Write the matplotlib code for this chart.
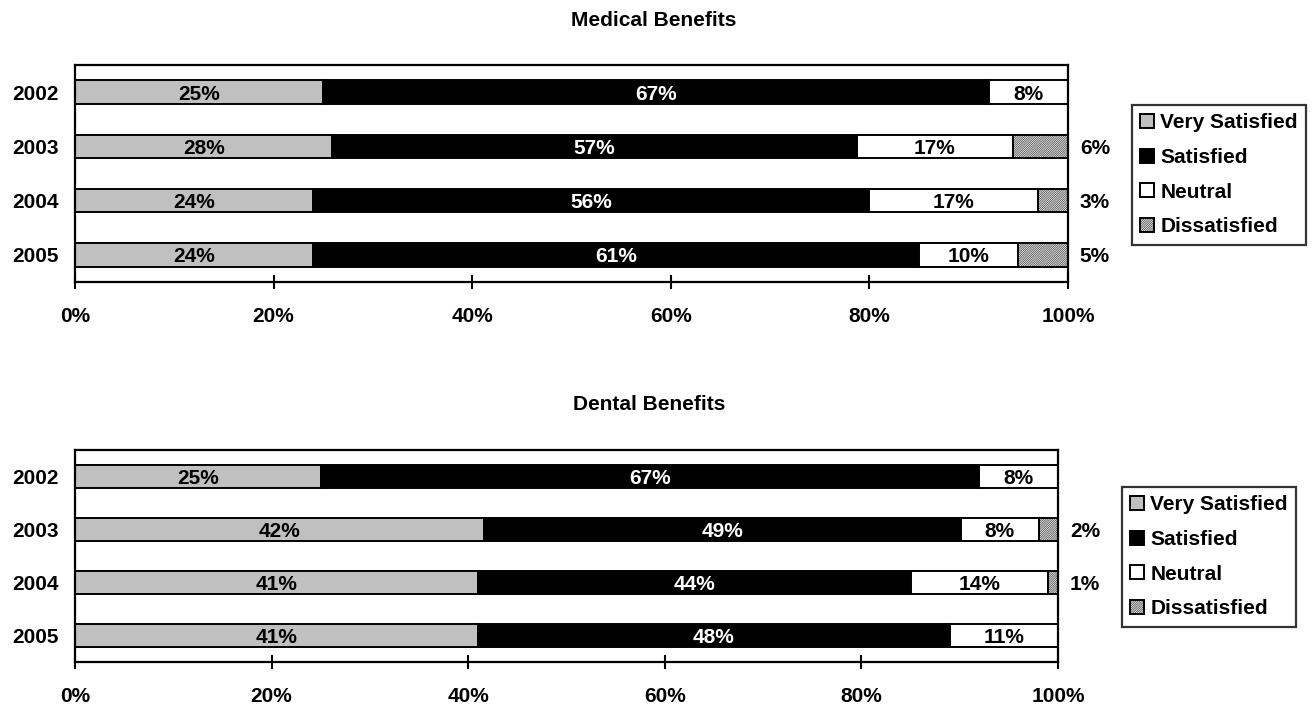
import matplotlib
matplotlib.use('Agg')
import matplotlib.pyplot as plt
import numpy as np

years = ['2002', '2003', '2004', '2005']
categories = ['Very Satisfied', 'Satisfied', 'Neutral', 'Dissatisfied']

medical_very = [25, 28, 24, 24]
medical_sat = [67, 57, 56, 61]
medical_neu = [8, 17, 17, 10]
medical_dis = [0, 6, 3, 5]

dental_very = [25, 42, 41, 41]
dental_sat = [67, 49, 44, 48]
dental_neu = [8, 8, 14, 11]
dental_dis = [0, 2, 1, 0]

x_ticks = [0, 0.2, 0.4, 0.6, 0.8, 1.0]
x_tick_labels = ['0%', '20%', '40%', '60%', '80%', '100%']

plt.rcParams['font.family'] = ['Liberation Sans', 'DejaVu Sans']
plt.rcParams['font.weight'] = 'bold'
plt.rcParams['hatch.linewidth'] = 0.35
plt.rcParams['hatch.color'] = 'black'

colors = ['#C0C0C0', '#000000', '#FFFFFF', '#FFFFFF']
hatches = [None, None, None, '/' * 18]
text_colors = ['black', 'white', 'black', 'black']

FS = 15

fig = plt.figure(figsize=(13.15, 7.11), dpi=100)


def draw(ax, series, legend_anchor):
    vals = np.array(series, dtype=float)
    totals = vals.sum(axis=0)
    frac = vals / totals
    y = np.arange(len(years))
    left = np.zeros(len(years))
    handles = []
    for i, cat in enumerate(categories):
        b = ax.barh(y, frac[i], left=left, height=0.43, color=colors[i],
                    edgecolor='black', linewidth=1.4, hatch=hatches[i],
                    label=cat)
        handles.append(b)
        for j in range(len(years)):
            if vals[i, j] == 0:
                continue
            lab = f'{int(vals[i, j])}%'
            if i < 3:
                ax.text(left[j] + frac[i, j] / 2, y[j], lab, ha='center',
                        va='center_baseline', color=text_colors[i], fontsize=FS,
                        fontweight='bold')
            else:
                ax.annotate(lab, xy=(1.0, y[j]), xycoords=('axes fraction', 'data'),
                            xytext=(8.5, 0), textcoords='offset points',
                            ha='left', va='center_baseline', fontsize=FS,
                            fontweight='bold', color='black',
                            annotation_clip=False)
        left += frac[i]
    ax.set_ylim(len(years) - 0.5, -0.5)
    ax.set_xlim(0, 1)
    ax.set_yticks(y)
    ax.set_yticklabels(years, fontsize=FS, fontweight='bold')
    ax.set_xticks(x_ticks)
    ax.set_xticklabels(x_tick_labels, fontsize=FS, fontweight='bold')
    ax.tick_params(axis='y', length=0, pad=12)
    ax.tick_params(axis='x', direction='inout', length=10, width=1.5, pad=13)
    for s in ax.spines.values():
        s.set_linewidth(1.6)
    leg = fig.legend(handles=handles, labels=categories, loc='upper left',
                     bbox_to_anchor=legend_anchor, frameon=True, fancybox=False,
                     edgecolor='black', prop={'weight': 'bold', 'size': FS},
                     handlelength=0.65, handleheight=0.65, handletextpad=0.3,
                     labelspacing=0.75, borderpad=0.4, borderaxespad=0)
    leg.get_frame().set_linewidth(1.6)
    for h in leg.legend_handles:
        h.set_linewidth(1.4)


W, H = 1315, 711
ax1 = fig.add_axes([75 / W, 1 - 282 / H, (1068 - 75) / W, (282 - 65) / H])
draw(ax1, [medical_very, medical_sat, medical_neu, medical_dis], (1132 / W, 1 - 105 / H))
ax2 = fig.add_axes([75 / W, 1 - 662 / H, (1058 - 75) / W, (662 - 450) / H])
draw(ax2, [dental_very, dental_sat, dental_neu, dental_dis], (1122 / W, 1 - 487 / H))

fig.text(654 / W, 1 - 18.5 / H, 'Medical Benefits', ha='center', va='center_baseline',
         fontsize=15, fontweight='bold')
fig.text(649 / W, 1 - 403 / H, 'Dental Benefits', ha='center', va='center_baseline',
         fontsize=15, fontweight='bold')

fig.savefig('out.png', dpi=100, facecolor='white')
